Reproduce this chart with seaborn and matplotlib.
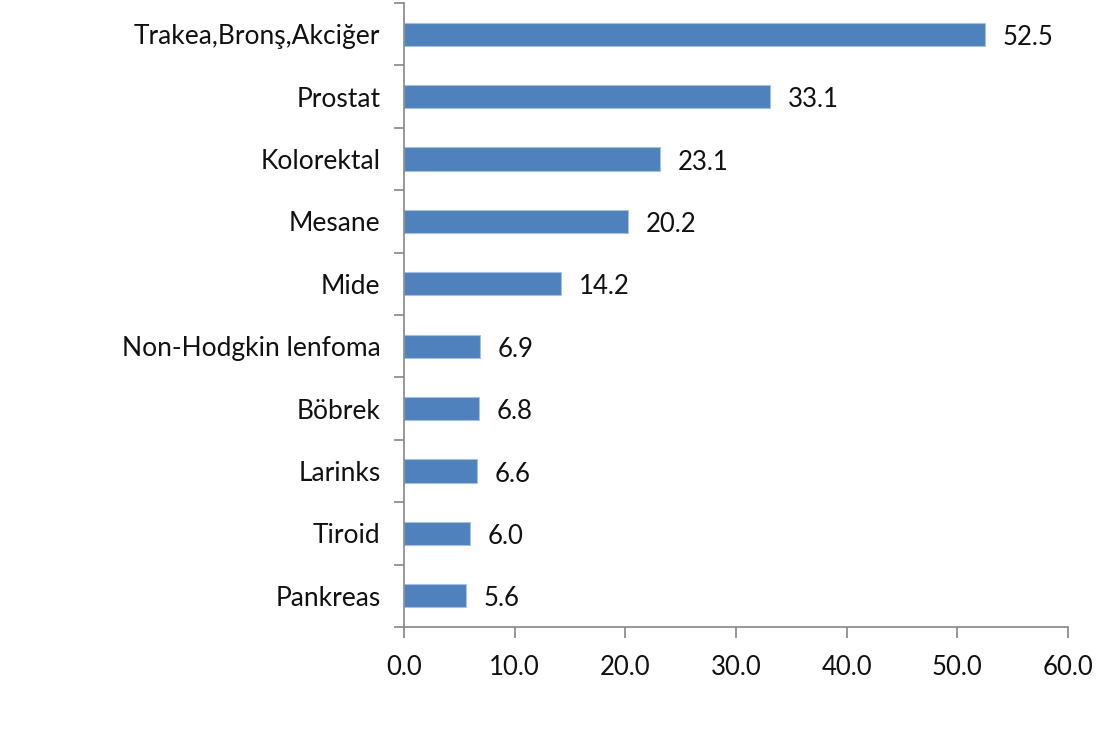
import matplotlib
matplotlib.use("Agg")
import matplotlib.pyplot as plt
import seaborn as sns
import pandas as pd

categories = ["Trakea,Bronş,Akciğer", "Prostat", "Kolorektal", "Mesane", "Mide",
              "Non-Hodgkin lenfoma", "Böbrek", "Larinks", "Tiroid", "Pankreas"]
values = [52.5, 33.1, 23.1, 20.2, 14.2, 6.9, 6.8, 6.6, 6.0, 5.6]
xticks = [0, 10, 20, 30, 40, 50, 60]

sns.set_theme(style="white")
plt.rcParams['font.family'] = ['Lato', 'DejaVu Sans']

df = pd.DataFrame({"cat": categories, "val": values})
fig = plt.figure(figsize=(11, 7.54), dpi=100)
ax = fig.add_axes([404/1100, 1-627/754, (1068-404)/1100, (627-3)/754])
sns.barplot(data=df, y="cat", x="val", orient="h", color="#4F81BD", width=0.37,
            saturation=1, ax=ax, edgecolor="#A7C0DE", linewidth=0.8)
ax.set_xlim(0, 60)
ax.set_ylim(9.5, -0.5)
ax.set_xticks(xticks)
ax.set_xticklabels([f"{t:.1f}" for t in xticks])
ax.set_xlabel("")
ax.set_ylabel("")
for s in ["top", "right"]:
    ax.spines[s].set_visible(False)
for s in ["left", "bottom"]:
    ax.spines[s].set_color("#868686")
    ax.spines[s].set_linewidth(1.2)
ax.set_yticks([i - 0.5 for i in range(11)], minor=True)
ax.tick_params(axis="y", which="major", length=0, pad=17, labelsize=19, colors="#111111")
ax.tick_params(axis="y", which="minor", length=7, width=1.2, color="#868686", direction="out", left=True)
ax.tick_params(axis="x", which="major", length=8, width=1.2, color="#868686", direction="out",
               bottom=True, pad=12, labelsize=18.5, labelcolor="#111111")
for i, v in enumerate(values):
    ax.text(v + 1.6, i + 0.05, f"{v:.1f}", va="center", ha="left", fontsize=18.5, color="#111111")
fig.savefig("out.png", dpi=100, facecolor="white")
